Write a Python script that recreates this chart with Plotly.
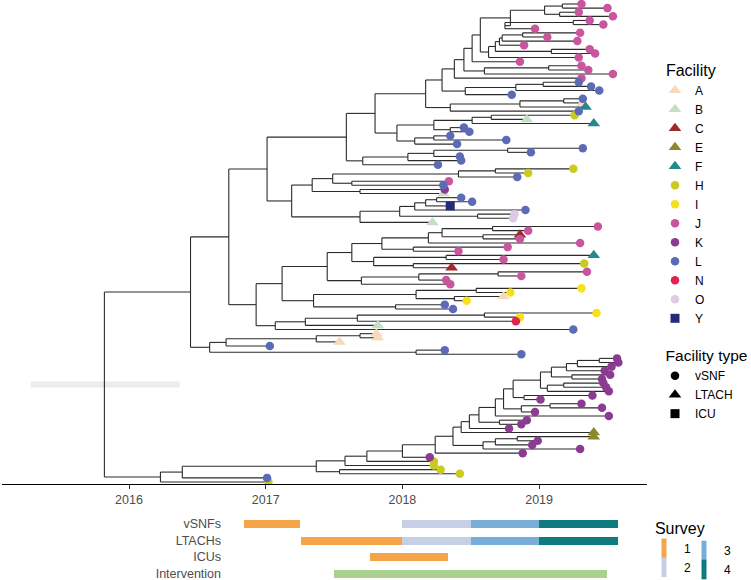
import plotly.graph_objects as go

# ---------------- data: dated phylogeny (Newick-like: tips are Facility:date, internal nodes carry their date) ----------------
c_j1 = "((J:2019.31,J:2019.50)2019.17,(J:2019.29,J:2019.54)2019.15)2019.04"
c_j2 = "((J:2019.37,J:2019.47)2019.25,J:2018.97)2018.75"
c_j3 = "((((J:2019.30,J:2019.06)2018.88,J:2019.28)2018.73,J:2018.89)2018.71,(J:2019.37,J:2019.41)2019.09)2018.68"
c_j4 = "((J:2019.31,J:2019.36)2019.07,J:2019.54)2018.60"
c_l1 = "(((L:2019.29,L:2019.38)2019.03,L:2019.44)2018.83,L:2018.80)2018.46"
c_l2 = "(((L:2019.32,A:2019.32)2019.18,F:2019.34)2018.86,L:2019.29)2018.35"
clade_j = (f"((((((({c_j1},{c_j2})2018.79,({c_j3},J:2019.29)2018.63)2018.57,J:2018.86)2018.51,"
           f"{c_j4})2018.45,J:2019.31)2018.38,{c_l1})2018.29,{c_l2})2018.17")
c_hbf = "(((H:2019.26,B:2018.91)2018.65,F:2019.40)2018.51,(L:2018.45,L:2018.49)2018.35)2018.23"
c_l3 = "((L:2018.35,L:2018.76)2018.23,L:2018.40)2018.09"
c_l4 = "((((L:2019.32,L:2018.94)2018.77,L:2018.42)2018.23,L:2018.43)2018.04,L:2018.26)2017.71"
c_mix = "((((H:2019.25,H:2018.92)2018.68,L:2018.84)2018.41,(J:2018.34,L:2018.30)2017.63)2017.49,(K:2018.31,B:2018.30)2017.69)2017.34"
c_y = "(((((L:2018.43,L:2018.51)2018.25,Y:2018.35)2018.17,L:2018.90)2018.09,(O:2018.82,O:2018.81)2018.55)2017.98,B:2018.22)2017.69"
c_jc = "(((J:2019.43,J:2018.92)2018.66,(C:2018.86,J:2018.86)2018.59)2018.29,J:2019.30)2018.19"
c_fh = "((F:2019.40,J:2018.74)2018.32,(H:2019.33,C:2018.36)2018.08)2017.79"
c_j5 = "(((J:2019.35,J:2018.87)2018.70,J:2018.32)2018.12,J:2018.35)2017.70"
c_i = "(((I:2019.31,I:2018.79)2018.54,(A:2018.74,I:2018.47)2018.38)2018.10,(L:2018.31,L:2018.37)2017.95)2017.35"
c_in = "((((I:2019.42,I:2018.86)2018.60,N:2018.83)2017.67,B:2017.82)2017.29,L:2019.25)2017.07"
c_a = "((((A:2017.81,A:2017.82)2017.69,A:2017.54)2017.37,L:2017.03)2016.71,(L:2018.31,L:2018.87)2018.10)2016.59"
c_k1 = "((((K:2019.57,K:2019.58)2019.44,K:2019.53)2019.28,K:2019.48)2019.20,(K:2019.52,K:2019.46)2019.24)2019.09"
c_k2 = f"(({c_k1},((K:2019.47,K:2019.49)2019.18,K:2019.51)2019.06)2019.01,(K:2019.39,K:2019.01)2018.89)2018.81"
c_k3 = f"(({c_k2},((K:2019.31,K:2019.46)2019.08,K:2018.97)2018.87)2018.74,K:2019.51)2018.68"
c_k4 = f"((({c_k3},(K:2018.91,K:2018.87)2018.71)2018.56,K:2018.78)2018.49,E:2019.40)2018.43"
c_k5 = "(((E:2019.40,K:2018.99)2018.84,K:2018.95)2018.68,K:2019.30)2018.59"
c_k = f"((({c_k4},{c_k5})2018.37,K:2018.88)2018.24,K:2018.20)2018.00"

top_part = (f"((((({clade_j},({c_hbf},{c_l3})2017.96)2017.80,{c_l4})2017.59,({c_mix},{c_y})2017.19)2017.01,"
            f"((((({c_jc},(J:2018.77,J:2018.41)2018.08)2017.85,{c_fh})2017.63,{c_j5})2017.45,{c_i})2017.12,{c_in})2016.93)2016.73,"
            f"{c_a})2016.45")
bottom_part = (f"((((({c_k},H:2018.23)2017.74,H:2018.23)2017.58,(H:2018.28,H:2018.42)2017.54)2017.37,"
               f"L:2017.01)2016.39,H:2017.02)2016.23")
tree_newick = f"({top_part},{bottom_part})2015.82"
root_hpd = [2015.28, 2016.37]

facility_codes = ["A", "B", "C", "E", "F", "H", "I", "J", "K", "L", "N", "O", "Y"]
facility_colors = ["#F7D9BD", "#C4E0C4", "#9E2A2B", "#8A8A2C", "#23898B", "#C9CC1E", "#F7E11C",
                   "#C9559F", "#8C3B93", "#5B6BB6", "#E3234F", "#DCCBE3", "#252A7A"]
facility_type = ["LTACH", "LTACH", "LTACH", "LTACH", "LTACH", "vSNF", "vSNF", "vSNF", "vSNF",
                 "vSNF", "vSNF", "vSNF", "ICU"]
type_names = ["vSNF", "LTACH", "ICU"]
type_symbols = ["circle", "triangle-up", "square"]
type_sizes = [8.5, 11, 9]

survey_rows = ["vSNFs", "LTACHs", "ICUs", "Intervention"]
bar_row = ["vSNFs", "vSNFs", "vSNFs", "vSNFs", "LTACHs", "LTACHs", "LTACHs", "LTACHs", "ICUs", "Intervention"]
bar_phase = ["1", "2", "3", "4", "1", "2", "3", "4", "1", "Intervention"]
bar_start = [2016.84, 2018.00, 2018.50, 2019.00, 2017.26, 2018.00, 2018.50, 2019.00, 2017.76, 2017.50]
bar_end = [2017.25, 2018.50, 2019.00, 2019.58, 2018.00, 2018.50, 2019.00, 2019.58, 2018.33, 2019.50]
phase_names = ["1", "2", "3", "4", "Intervention"]
phase_colors = ["#F4A54A", "#C6CFE5", "#78ADD8", "#0E7C7F", "#A9D08E"]
year_ticks = [2016, 2017, 2018, 2019]


# ---------------- tree parsing & layout ----------------
def parse(s):
    s = s.replace(" ", "")
    pos = 0

    def num():
        nonlocal pos
        j = pos
        while pos < len(s) and (s[pos].isdigit() or s[pos] == "."):
            pos += 1
        return float(s[j:pos])

    def node():
        nonlocal pos
        if s[pos] == "(":
            pos += 1
            kids = []
            while True:
                kids.append(node())
                if s[pos] == ",":
                    pos += 1
                    continue
                pos += 1
                break
            return {"date": num(), "kids": kids}
        lab = s[pos]
        pos += 2
        return {"date": num(), "fac": lab, "kids": []}

    out = node()
    assert pos == len(s), "unbalanced tree string"
    return out


tree = parse(tree_newick)
tips = []


def collect(n):
    if n["kids"]:
        for k in n["kids"]:
            collect(k)
    else:
        tips.append(n)


collect(tree)
N = len(tips)
for i, t in enumerate(tips):
    t["y"] = N - i


def sety(n):
    if n["kids"]:
        ys = [sety(k) for k in n["kids"]]
        n["y"] = (min(ys) + max(ys)) / 2
    return n["y"]


sety(tree)
ex, ey = [], []


def edges(n):
    if not n["kids"]:
        return
    ys = [k["y"] for k in n["kids"]]
    ex.extend([n["date"], n["date"], None])
    ey.extend([min(ys), max(ys), None])
    for k in n["kids"]:
        ex.extend([n["date"], k["date"], None])
        ey.extend([k["y"], k["y"], None])
        edges(k)


edges(tree)

# ---------------- geometry (pixels) ----------------
W, H = 751, 580
ML, MR = 2, 104
PW = W - ML - MR
PX_PER_YEAR = 136.7
X0 = 2016 + (ML - 129) / PX_PER_YEAR
X1 = X0 + PW / PX_PER_YEAR
TREE_BOTTOM = 484
tip_top_px, tip_bot_px = 4, 482
ppt = (tip_bot_px - tip_top_px) / (N - 1)
y_top = N + tip_top_px / ppt
y_bot = 1 - (TREE_BOTTOM - tip_bot_px) / ppt
BAR_TOP = 515.5
ROW_PX = 16.5
bar_left_px = 226


def px_x(px):
    return (px - ML) / PW


def px_y(py):
    return 1 - py / H


FONT = "Liberation Sans, Arial, sans-serif"
fig = go.Figure()

# root node date interval bar
fig.add_trace(go.Scatter(x=root_hpd, y=[tree["y"], tree["y"]], mode="lines",
                         line=dict(color="#ECECEC", width=6), hoverinfo="skip", showlegend=False))
# branches
fig.add_trace(go.Scatter(x=ex, y=ey, mode="lines", line=dict(color="#2b2b2b", width=1.1),
                         hoverinfo="skip", showlegend=False))
# tips by facility
for code, col, ftype in zip(facility_codes, facility_colors, facility_type):
    sel = [t for t in tips if t["fac"] == code]
    ti = type_names.index(ftype)
    fig.add_trace(go.Scatter(
        x=[t["date"] for t in sel], y=[t["y"] for t in sel], mode="markers", name=code,
        marker=dict(color=col, symbol=type_symbols[ti], size=type_sizes[ti], line=dict(width=0)),
        legend="legend", showlegend=True))
# facility type legend
for nm, sym, sz in zip(type_names, type_symbols, type_sizes):
    fig.add_trace(go.Scatter(x=[None], y=[None], mode="markers", name=nm,
                             marker=dict(color="black", symbol=sym, size=sz), legend="legend2"))

# survey bars
for row, ph, s, e in zip(bar_row, bar_phase, bar_start, bar_end):
    fig.add_trace(go.Bar(y=[survey_rows.index(row)], x=[e - s], base=[s], orientation="h",
                         marker=dict(color=phase_colors[phase_names.index(ph)], line=dict(width=0)),
                         width=0.48, xaxis="x2", yaxis="y2", showlegend=False, hoverinfo="skip"))
# survey legend (two columns)
for ph, col in zip(phase_names[:4], phase_colors[:4]):
    fig.add_trace(go.Scatter(x=[None], y=[None], mode="markers", name=ph,
                             marker=dict(symbol="line-ns", size=14, line=dict(width=6, color=col)),
                             legend="legend3" if ph in ("1", "2") else "legend4"))

nb = "\u00a0"
leg_common = dict(xanchor="left", yanchor="top", bgcolor="rgba(0,0,0,0)",
                  font=dict(size=12, family=FONT, color="black"),
                  itemsizing="trace", tracegroupgap=0)
fig.update_layout(
    width=W, height=H, margin=dict(l=ML, r=MR, t=0, b=0, autoexpand=False),
    paper_bgcolor="white", plot_bgcolor="white",
    font=dict(family=FONT),
    bargap=0, barmode="overlay",
    xaxis=dict(domain=[0, 1], range=[X0, X1], tickvals=year_ticks, ticks="outside", ticklen=4,
               tickcolor="#333333", showline=True, linecolor="black", linewidth=1.2, showgrid=False,
               zeroline=False, tickfont=dict(size=12.5, color="#4D4D4D", family=FONT), anchor="y"),
    yaxis=dict(domain=[px_y(TREE_BOTTOM), 1], range=[y_bot, y_top], visible=False, anchor="x"),
    xaxis2=dict(domain=[px_x(bar_left_px), 1], range=[X0 + (bar_left_px - ML) / PX_PER_YEAR, X1],
                visible=False, anchor="y2"),
    yaxis2=dict(domain=[0, px_y(BAR_TOP)], range=[-0.5 + (H - BAR_TOP) / ROW_PX, -0.5],
                tickvals=list(range(len(survey_rows))), ticktext=survey_rows, showgrid=False,
                zeroline=False, showline=False, ticks="", ticklabelstandoff=4,
                ticklabeloverflow="allow",
                tickfont=dict(size=12.5, color="#4D4D4D", family=FONT), anchor="x2"),
    legend=dict(title=dict(text=nb * 2 + "Facility", font=dict(size=16, family=FONT)),
                x=px_x(655), y=px_y(55), **leg_common),
    legend2=dict(title=dict(text=nb * 2 + "Facility type", font=dict(size=15.5, family=FONT)),
                 x=px_x(655), y=px_y(341), **leg_common),
    legend3=dict(title=dict(text=nb * 2 + "Survey", font=dict(size=16, family=FONT)),
                 x=px_x(644), y=px_y(513), **leg_common),
    legend4=dict(x=px_x(684), y=px_y(536), **leg_common),
)

fig.write_html("out.html", config={"displayModeBar": False},
               post_script="document.body.style.margin='0';document.body.style.overflow='hidden';")
